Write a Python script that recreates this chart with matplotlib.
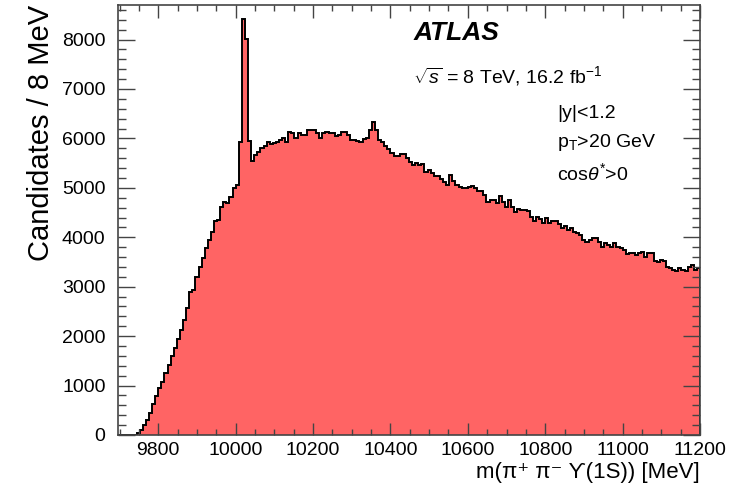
import numpy as np
import matplotlib
matplotlib.use("Agg")
import matplotlib.pyplot as plt
from matplotlib.ticker import MultipleLocator

plt.rcParams['font.family'] = ['Liberation Sans', 'DejaVu Sans']
plt.rcParams['mathtext.fontset'] = 'custom'
plt.rcParams['mathtext.rm'] = 'Liberation Sans'
plt.rcParams['mathtext.it'] = 'Liberation Sans:italic'

# Histogram: 8 MeV bins from 9696 to 11200 MeV
bin_start = 9696
bin_width = 8
counts = [
    0, 0, 0, 0, 0, 0, 30, 100, 200, 300,                       # 0-9
    450, 620, 780, 950, 1080, 1250, 1420, 1600, 1760, 1950,    # 10-19
    2130, 2330, 2570, 2900, 2935, 3200, 3400, 3575, 3780, 3950,  # 20-29
    4115, 4320, 4350, 4620, 4720, 4700, 4820, 4990, 5050, 5920,  # 30-39
    8420, 8015, 5940, 5545, 5670, 5730, 5800, 5840, 5920, 5880,  # 40-49
    5900, 5920, 5960, 6000, 5920, 6140, 6100, 6000, 6100, 6070,  # 50-59
    6070, 6170, 6170, 6170, 6100, 6000, 6100, 6140, 6100, 6100,  # 60-69
    6050, 6070, 6140, 6140, 6070, 5970, 5960, 5940, 5920, 5980,  # 70-79
    6000, 6170, 6340, 6170, 5960, 5920, 5840, 5780, 5700, 5650,  # 80-89
    5650, 5690, 5690, 5600, 5530, 5470, 5500, 5470, 5490, 5330,  # 90-99
    5360, 5300, 5240, 5230, 5180, 5110, 5060, 5260, 5130, 5060,  # 100-109
    5010, 4990, 4990, 5010, 5040, 4990, 4940, 4945, 4860, 4720,  # 110-119
    4750, 4750, 4690, 4840, 4720, 4620, 4760, 4620, 4520, 4570,  # 120-129
    4560, 4560, 4530, 4420, 4320, 4420, 4370, 4290, 4390, 4290,  # 130-139
    4320, 4320, 4270, 4180, 4230, 4150, 4180, 4115, 4080, 4050,  # 140-149
    3950, 3910, 3950, 3980, 3980, 3910, 3810, 3880, 3850, 3810,  # 150-159
    3880, 3810, 3780, 3745, 3660, 3680, 3680, 3650, 3680, 3710,  # 160-169
    3610, 3680, 3690, 3510, 3500, 3540, 3510, 3400, 3370, 3340,  # 170-179
    3310, 3370, 3340, 3310, 3400, 3430, 3340, 3380,              # 180-187
]
edges = bin_start + bin_width * np.arange(len(counts) + 1)

x_major = [9800, 10000, 10200, 10400, 10600, 10800, 11000, 11200]
y_major = [0, 1000, 2000, 3000, 4000, 5000, 6000, 7000, 8000]

fig = plt.figure(figsize=(7.33, 4.92), dpi=100)
ax = fig.add_axes([0.161, 0.1159, 0.794, 0.874])

ax.stairs(counts, edges, fill=True, color='#ff6464', linewidth=0)
ax.stairs(counts, edges, fill=False, color='black', linewidth=1.4, baseline=0)

ax.set_xlim(9696, 11200)
ax.set_ylim(0, 8700)
ax.set_xticks(x_major)
ax.set_yticks(y_major)
ax.xaxis.set_minor_locator(MultipleLocator(50))
ax.yaxis.set_minor_locator(MultipleLocator(200))
ax.tick_params(axis='both', which='both', direction='in', top=True, right=True,
               labelsize=14, color='#444444', width=1.0)
ax.tick_params(axis='x', which='major', length=9, pad=5)
ax.tick_params(axis='x', which='minor', length=4.5)
ax.tick_params(axis='y', which='major', length=12, pad=9)
ax.tick_params(axis='y', which='minor', length=6)
for s in ax.spines.values():
    s.set_color('#444444')
    s.set_linewidth(1.2)

ax.set_xlabel('m(π⁺ π⁻ ϒ(1S)) [MeV]', fontsize=16, loc='right', labelpad=2)
ax.set_ylabel('Candidates / 8 MeV', fontsize=21, loc='top', labelpad=5)

ax.text(0.507, 0.935, 'ATLAS', transform=ax.transAxes, fontsize=19,
        fontweight='bold', fontstyle='italic', va='center', ha='left')
ax.text(0.507, 0.835, r'$\sqrt{s}$ = 8 TeV, 16.2 fb$^{-1}$', transform=ax.transAxes,
        fontsize=14, va='center', ha='left')
ax.text(0.755, 0.748, '|y|<1.2', transform=ax.transAxes, fontsize=14, va='center', ha='left')
ax.text(0.755, 0.680, r'p$_{\mathrm{T}}$>20 GeV', transform=ax.transAxes, fontsize=14, va='center', ha='left')
ax.text(0.755, 0.610, r'cos$\theta^{*}$>0', transform=ax.transAxes, fontsize=14, va='center', ha='left')

fig.savefig('out.png', dpi=100)
